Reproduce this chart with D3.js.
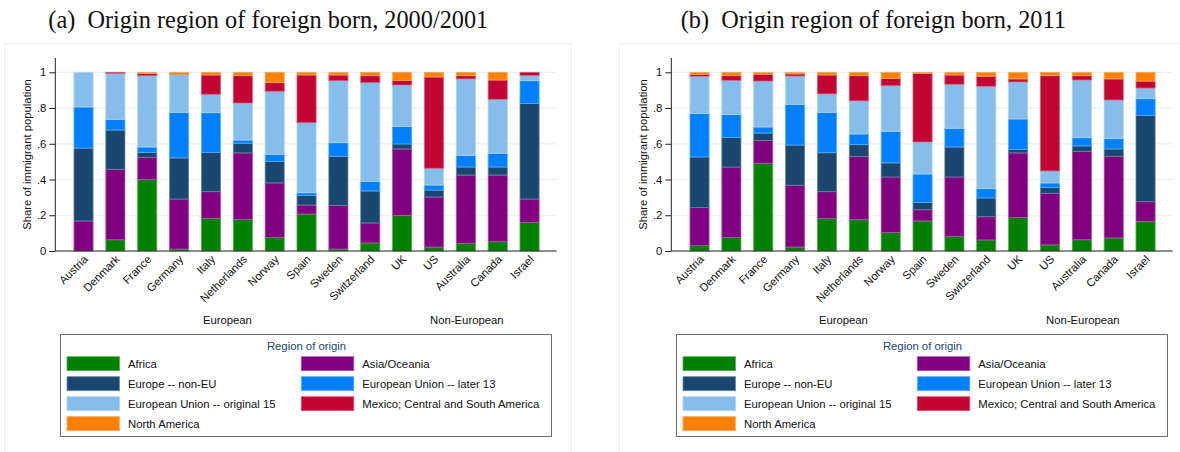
<!DOCTYPE html>
<html>
<head>
<meta charset="utf-8">
<script src="https://cdn.jsdelivr.net/npm/d3@7"></script>
<style>
  html, body { margin: 0; padding: 0; background: #fff; }
  svg { display: block; }
  text { font-family: "Liberation Sans", Arial, sans-serif; }
</style>
</head>
<body>
<svg id="chart" width="1180" height="452"></svg>
<script>
// ---------- DATA ----------
const countries = ["Austria","Denmark","France","Germany","Italy","Netherlands","Norway","Spain","Sweden","Switzerland","UK","US","Australia","Canada","Israel"];
const seriesNames = ["Africa","Asia/Oceania","Europe -- non-EU","European Union -- later 13","European Union -- original 15","Mexico; Central and South America","North America"];
const seriesColors = ["#008000","#800080","#1a476f","#0080ff","#87bdea","#c10534","#ff8000"];
const yTickValues = [0, 0.2, 0.4, 0.6, 0.8, 1];
const yTickLabels = ["0", ".2", ".4", ".6", ".8", "1"];
const groupLabels = ["European", "Non-European"];

// Panel (a) 2000/2001
const africa2000 = [0.000,0.063,0.399,0.011,0.183,0.177,0.076,0.207,0.011,0.045,0.200,0.022,0.043,0.052,0.159];
const asia2000   = [0.168,0.394,0.125,0.280,0.149,0.372,0.305,0.050,0.243,0.112,0.371,0.280,0.382,0.373,0.132];
const euNon2000  = [0.408,0.220,0.028,0.230,0.220,0.054,0.121,0.053,0.276,0.179,0.028,0.039,0.045,0.045,0.535];
const eu13_2000  = [0.230,0.060,0.030,0.255,0.222,0.018,0.039,0.016,0.076,0.054,0.097,0.028,0.064,0.077,0.127];
const eu15_2000  = [0.194,0.257,0.399,0.211,0.103,0.207,0.353,0.392,0.347,0.552,0.233,0.094,0.429,0.302,0.030];
const latam2000  = [0.000,0.006,0.012,0.002,0.108,0.153,0.048,0.267,0.032,0.039,0.026,0.511,0.018,0.108,0.017];
const northAm2000= [0.000,0.000,0.007,0.011,0.015,0.019,0.058,0.015,0.015,0.019,0.045,0.026,0.019,0.043,0.000];

// Panel (b) 2011
const africa2011 = [0.030,0.076,0.491,0.022,0.181,0.175,0.103,0.168,0.082,0.062,0.188,0.034,0.063,0.073,0.166];
const asia2011   = [0.213,0.394,0.128,0.346,0.151,0.353,0.311,0.063,0.332,0.130,0.361,0.289,0.495,0.457,0.110];
const euNon2011  = [0.283,0.166,0.041,0.225,0.218,0.067,0.079,0.040,0.168,0.105,0.020,0.033,0.030,0.041,0.483];
const eu13_2011  = [0.243,0.127,0.034,0.228,0.226,0.060,0.177,0.160,0.105,0.052,0.170,0.025,0.046,0.058,0.094];
const eu15_2011  = [0.209,0.192,0.257,0.158,0.103,0.185,0.255,0.179,0.246,0.573,0.207,0.067,0.323,0.216,0.059];
const latam2011  = [0.011,0.026,0.038,0.012,0.106,0.141,0.041,0.383,0.052,0.056,0.017,0.533,0.024,0.118,0.039];
const northAm2011= [0.011,0.019,0.011,0.009,0.015,0.019,0.034,0.007,0.015,0.022,0.037,0.019,0.019,0.037,0.049];

const panels = [
  { title: "(a)\u2002Origin region of foreign born, 2000/2001", series: [africa2000, asia2000, euNon2000, eu13_2000, eu15_2000, latam2000, northAm2000] },
  { title: "(b)\u2002Origin region of foreign born, 2011", series: [africa2011, asia2011, euNon2011, eu13_2011, eu15_2011, latam2011, northAm2011] }
];

// ---------- LAYOUT ----------
const svg = d3.select("#chart");
const panelOffsets = [0, 616];
const titleCenters = [268.3, 873.3];
const axisX = 55.3, axisRight = 556.7;
const y0 = 251, yTop = 58;
const fs = "11.3px";

const y = d3.scaleLinear().domain([0, 1.08]).range([y0, yTop]);
const x = d3.scaleBand().domain(countries).range([67.6, 545.5]).paddingInner(0.4).paddingOuter(0.2);

const lighter = c => d3.interpolateRgb(c, "#ffffff")(0.35);

panels.forEach((p, pi) => {
  const ox = panelOffsets[pi];
  const g = svg.append("g").attr("transform", `translate(${ox},0)`);

  // faint graph-region border
  g.append("rect").attr("x", pi === 0 ? 4.5 : 3.5).attr("y", 43.5)
    .attr("width", 567).attr("height", 420)
    .attr("fill", "none").attr("stroke", "#f0f0f0").attr("stroke-width", 1);

  // title
  svg.append("text").attr("x", titleCenters[pi]).attr("y", 28)
    .attr("text-anchor", "middle")
    .style("font-family", '"Liberation Serif", "DejaVu Serif", serif')
    .style("font-size", "24.3px").attr("fill", "#111")
    .text(p.title);

  // gridlines
  g.append("g").selectAll("line").data(yTickValues.filter(v => v > 0)).join("line")
    .attr("x1", axisX).attr("x2", axisRight)
    .attr("y1", d => y(d)).attr("y2", d => y(d))
    .attr("stroke", "#eaf2f3").attr("stroke-width", 1.2);

  // stacked bars
  const rows = countries.map((c, i) => {
    const o = { country: c };
    seriesNames.forEach((s, si) => o[s] = p.series[si][i]);
    return o;
  });
  const stacked = d3.stack().keys(seriesNames)(rows);
  g.append("g").selectAll("g").data(stacked).join("g")
    .attr("fill", (d, i) => seriesColors[i])
    .attr("stroke", (d, i) => lighter(seriesColors[i]))
    .attr("stroke-width", 0.8)
    .selectAll("rect").data(d => d.filter(v => v[1] - v[0] > 0.0005)).join("rect")
    .attr("x", d => x(d.data.country))
    .attr("width", x.bandwidth())
    .attr("y", d => y(d[1]))
    .attr("height", d => y(d[0]) - y(d[1]));

  // y axis
  const yAxis = d3.axisLeft(y).tickValues(yTickValues).tickFormat((d, i) => yTickLabels[i]).tickSize(6).tickPadding(3);
  const ya = g.append("g").attr("transform", `translate(${axisX},0)`).call(yAxis);
  ya.select(".domain").attr("d", `M0,${y0}V${yTop}`).attr("stroke", "#222");
  ya.selectAll(".tick line").attr("stroke", "#222");
  ya.selectAll(".tick text").style("font-size", fs).attr("fill", "#111")
    .style("font-family", '"Liberation Sans", Arial, sans-serif');

  // x axis
  const xAxis = d3.axisBottom(x).tickSize(0).tickPadding(0);
  const xa = g.append("g").attr("transform", `translate(0,${y0})`).call(xAxis);
  xa.select(".domain").attr("d", `M${axisX},0H${axisRight}`).attr("stroke", "#222");
  xa.selectAll(".tick text")
    .style("font-size", fs).attr("fill", "#111")
    .style("font-family", '"Liberation Sans", Arial, sans-serif')
    .attr("text-anchor", "end")
    .attr("dy", null).attr("y", 0)
    .attr("transform", "translate(5,9) rotate(-45)");

  // y axis title
  g.append("text")
    .attr("transform", `translate(30.5,${(y0 + yTop) / 2}) rotate(-90)`)
    .attr("text-anchor", "middle").style("font-size", fs).attr("fill", "#111")
    .text("Share of immigrant population");

  // group labels
  const groupX = [(x("Italy") + x("Netherlands")) / 2 + x.bandwidth() / 2 + 0.5, x("Australia") + x.bandwidth() / 2 + 1];
  g.append("g").selectAll("text").data(groupLabels).join("text")
    .attr("x", (d, i) => groupX[i]).attr("y", 324)
    .attr("text-anchor", "middle").style("font-size", fs).attr("fill", "#111")
    .text(d => d);

  // legend
  const lg = g.append("g");
  lg.append("rect").attr("x", 60.5).attr("y", 334.5).attr("width", 491).attr("height", 102)
    .attr("fill", "#fff").attr("stroke", "#6e6e6e").attr("stroke-width", 1);
  lg.append("text").attr("x", 306.5).attr("y", 349.5).attr("text-anchor", "middle")
    .style("font-size", fs).attr("fill", "#1a476f").text("Region of origin");
  const items = lg.selectAll("g.item").data(seriesNames).join("g").attr("class", "item")
    .attr("transform", (d, i) => `translate(${i % 2 === 0 ? 67 : 301.3},${356.7 + Math.floor(i / 2) * 20})`);
  items.append("rect").attr("width", 52.5).attr("height", 14)
    .attr("fill", (d, i) => seriesColors[i])
    .attr("stroke", (d, i) => lighter(seriesColors[i])).attr("stroke-width", 0.8);
  items.append("text").attr("x", 61).attr("y", 11)
    .style("font-size", fs).attr("fill", "#111").text(d => d);
});
</script>
</body>
</html>
